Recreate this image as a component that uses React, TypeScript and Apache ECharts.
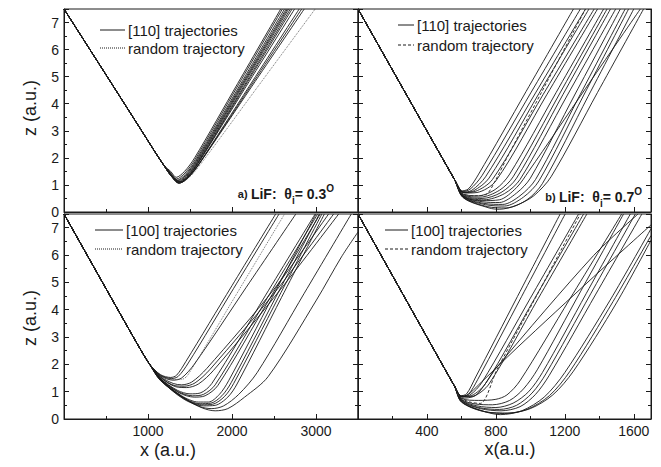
import React, { useEffect, useRef } from "react";
import * as echarts from "echarts";

// ---- axis ranges ----
const xRangeLeft = [0, 3500];
const xRangeRight = [0, 1700];
const zRange = [0, 7.5];
const xStepLeft = 1000;
const xStepRight = 400;
const zStep = 1;

// ---- panel a: [110], theta 0.3 ----
const inA = [[0, 7.5], [500, 5.07], [900, 3.12], [1100, 2.14], [1190, 1.72]];
const outA = [
  [[1270, 1.5], [1335, 1.28], [1435, 1.5], [1555, 2.0], [2068, 4.75], [2580, 7.5]],
  [[1270, 1.45], [1340, 1.22], [1440, 1.44], [1560, 1.94], [2080, 4.72], [2600, 7.5]],
  [[1270, 1.42], [1345, 1.17], [1445, 1.39], [1565, 1.89], [2095, 4.69], [2625, 7.5]],
  [[1270, 1.4], [1350, 1.14], [1450, 1.36], [1570, 1.86], [2108, 4.68], [2645, 7.5]],
  [[1270, 1.38], [1355, 1.11], [1455, 1.33], [1575, 1.83], [2118, 4.67], [2660, 7.5]],
  [[1270, 1.37], [1360, 1.09], [1460, 1.31], [1580, 1.81], [2128, 4.66], [2675, 7.5]],
  [[1270, 1.36], [1365, 1.07], [1465, 1.29], [1585, 1.79], [2140, 4.64], [2695, 7.5]],
  [[1270, 1.35], [1370, 1.06], [1470, 1.28], [1590, 1.78], [2152, 4.64], [2715, 7.5]],
  [[1270, 1.35], [1375, 1.07], [1475, 1.29], [1595, 1.79], [2170, 4.65], [2745, 7.5]],
  [[1270, 1.36], [1385, 1.08], [1485, 1.29], [1605, 1.77], [2202, 4.63], [2800, 7.5]],
  [[1270, 1.37], [1390, 1.1], [1490, 1.31], [1610, 1.78], [2220, 4.64], [2830, 7.5]],
  [[1270, 1.38], [1395, 1.12], [1495, 1.33], [1615, 1.8], [2238, 4.65], [2860, 7.5]],
];
const rndA = [[1270, 1.36], [1385, 1.08], [1490, 1.28], [1610, 1.7], [2300, 4.6], [2990, 7.5]];

// ---- panel b: [110], theta 0.7 ----
const inB = [[0, 7.5], [300, 4.12], [500, 1.87], [560, 1.2]];
const outB = [
  [[600, 0.78], [640, 0.85], [700, 1.4], [975, 4.45], [1250, 7.5]],
  [[605, 0.75], [650, 0.84], [720, 1.35], [1005, 4.43], [1290, 7.5]],
  [[610, 0.73], [660, 0.8], [740, 1.3], [1030, 4.4], [1320, 7.5]],
  [[612, 0.72], [670, 0.78], [760, 1.25], [1050, 4.38], [1340, 7.5]],
  [[615, 0.72], [680, 0.76], [780, 1.2], [1075, 4.35], [1370, 7.5]],
  [[618, 0.7], [690, 0.72], [800, 1.15], [1095, 4.33], [1390, 7.5]],
  [[610, 0.66], [700, 0.6], [800, 0.85], [880, 1.4], [1150, 4.42], [1425, 7.5]],
  [[610, 0.64], [710, 0.55], [820, 0.8], [900, 1.3], [1175, 4.43], [1445, 7.5]],
  [[610, 0.62], [720, 0.5], [830, 0.72], [920, 1.25], [1190, 4.35], [1465, 7.5]],
  [[610, 0.6], [730, 0.45], [850, 0.68], [940, 1.2], [1215, 4.32], [1495, 7.5]],
  [[610, 0.58], [720, 0.38], [820, 0.35], [920, 0.7], [1000, 1.25], [1260, 4.36], [1522, 7.5]],
  [[610, 0.56], [730, 0.32], [840, 0.28], [940, 0.6], [1030, 1.2], [1290, 4.35], [1550, 7.5]],
  [[610, 0.55], [740, 0.27], [850, 0.22], [960, 0.55], [1050, 1.15], [1310, 4.32], [1570, 7.5]],
  [[610, 0.54], [750, 0.2], [860, 0.15], [980, 0.45], [1070, 1.05], [1335, 4.27], [1600, 7.5]],
  [[610, 0.53], [760, 0.15], [820, 0.1], [920, 0.25], [1020, 0.6], [1120, 1.3], [1390, 4.42], [1657, 7.5]],
  [[610, 0.58], [720, 0.42], [820, 0.45], [920, 0.9], [990, 1.5], [1320, 4.56], [1638, 7.5]],
];
const rndB = [[600, 0.7], [680, 0.6], [744, 0.65], [800, 1.2], [864, 2.0], [1038, 4.1], [1320, 7.5]];

// ---- panel c: [100], theta 0.3 ----
const inC = [[0, 7.5], [500, 4.77], [900, 2.6], [1020, 2.0]];
const outC = [
  [[1150, 1.62], [1270, 1.52], [1340, 1.6], [1450, 2.1], [2000, 4.88], [2520, 7.5]],
  [[1150, 1.6], [1280, 1.48], [1360, 1.56], [1480, 2.05], [2020, 4.78], [2560, 7.5]],
  [[1150, 1.58], [1300, 1.42], [1400, 1.5], [1550, 2.0], [2170, 4.82], [2760, 7.5]],
  [[1150, 1.55], [1300, 1.3], [1400, 1.25], [1520, 1.35], [1700, 1.85], [2500, 4.75], [3150, 7.5]],
  [[1150, 1.53], [1320, 1.22], [1430, 1.2], [1560, 1.32], [1740, 1.82], [2540, 4.75], [3210, 7.5]],
  [[1150, 1.52], [1330, 1.18], [1460, 1.15], [1600, 1.28], [1780, 1.78], [2580, 4.75], [3270, 7.5]],
  [[1150, 1.48], [1350, 1.05], [1500, 0.92], [1620, 0.95], [1760, 1.3], [2400, 4.53], [2990, 7.5]],
  [[1150, 1.47], [1360, 1.0], [1530, 0.85], [1660, 0.9], [1800, 1.25], [2420, 4.43], [3020, 7.5]],
  [[1150, 1.46], [1370, 0.96], [1550, 0.8], [1680, 0.85], [1830, 1.22], [2440, 4.36], [3050, 7.5]],
  [[1150, 1.45], [1400, 0.85], [1600, 0.62], [1720, 0.62], [1850, 0.9], [1960, 1.4], [2480, 4.45], [3000, 7.5]],
  [[1150, 1.44], [1410, 0.8], [1620, 0.56], [1750, 0.58], [1880, 0.85], [1990, 1.33], [2520, 4.45], [3040, 7.5]],
  [[1150, 1.43], [1420, 0.76], [1640, 0.52], [1770, 0.54], [1910, 0.82], [2020, 1.3], [2550, 4.43], [3070, 7.5]],
  [[1150, 1.42], [1430, 0.72], [1660, 0.48], [1800, 0.5], [1950, 0.8], [2060, 1.28], [2590, 4.45], [3100, 7.5]],
  [[1150, 1.41], [1440, 0.75], [1620, 0.45], [1760, 0.38], [1900, 0.48], [2080, 0.9], [2300, 1.7], [2860, 4.6], [3420, 7.5]],
  [[1150, 1.4], [1450, 0.72], [1650, 0.4], [1800, 0.3], [1950, 0.38], [2150, 0.8], [2430, 1.55], [3005, 4.35], [3303, 5.93], [3500, 6.84]],
];
const rndC = [[1150, 1.6], [1300, 1.45], [1400, 1.45], [1472, 1.6], [2050, 4.55], [2626, 7.5]];

// ---- panel d: [100], theta 0.7 ----
const inD = [[0, 7.5], [300, 4.12], [500, 1.87], [560, 1.2]];
const outD = [
  [[595, 0.85], [630, 0.92], [680, 1.5], [925, 4.48], [1173, 7.5]],
  [[598, 0.84], [640, 0.9], [695, 1.45], [950, 4.49], [1202, 7.5]],
  [[600, 0.83], [650, 0.88], [720, 1.35], [1000, 4.42], [1280, 7.5]],
  [[602, 0.82], [660, 0.86], [740, 1.3], [1025, 4.41], [1309, 7.5]],
  [[604, 0.81], [670, 0.84], [760, 1.28], [1045, 4.4], [1328, 7.5]],
  [[600, 0.75], [700, 0.68], [800, 0.72], [864, 0.88], [940, 1.4], [1230, 4.4], [1530, 7.5]],
  [[600, 0.8], [640, 0.9], [700, 1.25], [922, 2.6], [1367, 5.2], [1700, 7.1]],
  [[600, 0.76], [680, 0.85], [740, 1.3], [806, 1.9], [1367, 5.98], [1625, 7.5]],
  [[600, 0.72], [680, 0.55], [780, 0.52], [880, 0.68], [960, 1.1], [1040, 1.8], [1290, 4.65], [1541, 7.5]],
  [[600, 0.7], [690, 0.48], [800, 0.42], [900, 0.58], [990, 1.0], [1070, 1.7], [1325, 4.6], [1580, 7.5]],
  [[600, 0.68], [700, 0.42], [820, 0.35], [920, 0.5], [1010, 0.95], [1090, 1.65], [1350, 4.58], [1609, 7.5]],
  [[600, 0.66], [710, 0.38], [830, 0.3], [940, 0.45], [1030, 0.9], [1110, 1.6], [1380, 4.57], [1647, 7.5]],
  [[600, 0.64], [720, 0.3], [825, 0.16], [950, 0.3], [1080, 0.8], [1200, 1.7], [1463, 4.35], [1700, 6.96]],
  [[600, 0.63], [730, 0.28], [850, 0.2], [980, 0.35], [1110, 0.85], [1230, 1.75], [1480, 4.3], [1700, 6.71]],
  [[600, 0.62], [740, 0.26], [870, 0.22], [1000, 0.38], [1130, 0.88], [1250, 1.75], [1500, 4.25], [1700, 6.54]],
];
const rndD = [[590, 0.8], [650, 0.62], [709, 0.57], [806, 1.8], [1050, 4.67], [1290, 7.5]];

const legendTop = ["[110] trajectories", "random trajectory"];
const legendBottom = ["[100] trajectories", "random trajectory"];

const FONT = "'Liberation Sans', Arial, Helvetica, sans-serif";
const INK = "#1a1a1a";

export default function App() {
  const ref = useRef<HTMLDivElement>(null);
  useEffect(() => {
    if (!ref.current) return;
    const chart = echarts.init(ref.current, null, { renderer: "svg" });

    const grids = [
      { left: 64, top: 9, width: 294, height: 203 },
      { left: 358, top: 9, width: 293, height: 203 },
      { left: 64, top: 214, width: 294, height: 205 },
      { left: 358, top: 214, width: 293, height: 205 },
    ].map((g) => ({ ...g, show: true, borderColor: INK, borderWidth: 1, backgroundColor: "transparent" }));

    const xAxis = [0, 1, 2, 3].map((g) => {
      const left = g % 2 === 0;
      const range = left ? xRangeLeft : xRangeRight;
      return {
        type: "value",
        gridIndex: g,
        min: range[0],
        max: range[1],
        interval: left ? xStepLeft : xStepRight,
        axisLine: { show: true, lineStyle: { color: INK, width: 1 } },
        axisTick: { show: true, inside: true, length: 5, lineStyle: { color: INK } },
        minorTick: { show: true, splitNumber: 2, length: 3, lineStyle: { color: INK } },
        splitLine: { show: false },
        axisLabel: {
          show: g >= 2,
          showMinLabel: false,
          showMaxLabel: false,
          fontSize: 14,
          fontFamily: FONT,
          color: INK,
          margin: 5,
          formatter: (v: number) => String(v),
        },
      };
    });

    const yAxis: any[] = [];
    [0, 1, 2, 3].forEach((g) => {
      ["left", "right"].forEach((pos) => {
        yAxis.push({
          type: "value",
          gridIndex: g,
          position: pos,
          min: zRange[0],
          max: zRange[1],
          interval: zStep,
          axisLine: { show: true, lineStyle: { color: INK, width: 1 } },
          axisTick: { show: true, inside: true, length: 5, lineStyle: { color: INK } },
          minorTick: { show: true, splitNumber: 2, length: 3, lineStyle: { color: INK } },
          splitLine: { show: false },
          axisLabel: {
            show: pos === "left" && g % 2 === 0,
            showMaxLabel: false,
            fontSize: 14,
            fontFamily: FONT,
            color: INK,
            margin: 5,
          },
        });
      });
    });

    const panels = [
      { inc: inA, outs: outA, rnd: rndA, rndDash: [1, 1], rndW: 0.7 },
      { inc: inB, outs: outB, rnd: rndB, rndDash: [3, 2], rndW: 1 },
      { inc: inC, outs: outC, rnd: rndC, rndDash: [1, 1], rndW: 0.7 },
      { inc: inD, outs: outD, rnd: rndD, rndDash: [3, 2], rndW: 1 },
    ];

    const series: any[] = [];
    panels.forEach((p, g) => {
      const common = {
        type: "line",
        xAxisIndex: g,
        yAxisIndex: g * 2,
        symbol: "none",
        showSymbol: false,
        smooth: 0.3,
        silent: true,
        clip: true,
      };
      p.outs.forEach((o) => {
        series.push({
          ...common,
          data: [...p.inc, ...o],
          lineStyle: { color: INK, width: 0.9 },
        });
      });
      series.push({
        ...common,
        data: [...p.inc, ...p.rnd],
        lineStyle: { color: "#333", width: p.rndW, type: p.rndDash },
      });
    });

    const legendItems = (
      x1: number, x2: number, tx: number, y1: number, y2: number, labels: string[], dash: number[]
    ) => [
      { type: "line", shape: { x1, y1, x2, y2: y1 }, style: { stroke: INK, lineWidth: 1 } },
      { type: "text", x: tx, y: y1, style: { text: labels[0], fontSize: 15, fontFamily: FONT, fill: INK, verticalAlign: "middle" } },
      { type: "line", shape: { x1, y1: y2, x2, y2 }, style: { stroke: INK, lineWidth: 1, lineDash: dash } },
      { type: "text", x: tx, y: y2, style: { text: labels[1], fontSize: 15, fontFamily: FONT, fill: INK, verticalAlign: "middle" } },
    ];

    const richLabel = (letter: string, angle: string) => ({
      text: `{s|${letter})} {b|LiF:  θ}{sub|i}{b|= ${angle}}{sup|O}`,
      align: "right",
      verticalAlign: "middle",
      rich: {
        s: { fontSize: 11, fontWeight: "bold", fontFamily: FONT, fill: INK, lineHeight: 22 },
        b: { fontSize: 14, fontWeight: "bold", fontFamily: FONT, fill: INK, lineHeight: 22 },
        sub: { fontSize: 10, fontWeight: "bold", fontFamily: FONT, fill: INK, lineHeight: 22, verticalAlign: "bottom" },
        sup: { fontSize: 10, fontWeight: "bold", fontFamily: FONT, fill: INK, lineHeight: 22, verticalAlign: "top" },
      },
    });

    const graphic: any[] = [
      ...legendItems(100, 125, 128, 30, 48, legendTop, [1, 1]),
      ...legendItems(398, 414, 417, 25, 45, legendTop, [3, 2]),
      ...legendItems(95, 123, 126, 230, 249, legendBottom, [1, 1]),
      ...legendItems(385, 408, 411, 230, 249, legendBottom, [3, 2]),
      { type: "text", x: 334, y: 194, style: richLabel("a", "0.3") },
      { type: "text", x: 642, y: 197, style: richLabel("b", "0.7") },
      {
        type: "text", x: 30, y: 108, rotation: Math.PI / 2,
        style: { text: "z (a.u.)", fontSize: 18, fontFamily: FONT, fill: INK, align: "center", verticalAlign: "middle" },
      },
      {
        type: "text", x: 30, y: 318, rotation: Math.PI / 2,
        style: { text: "z (a.u.)", fontSize: 18, fontFamily: FONT, fill: INK, align: "center", verticalAlign: "middle" },
      },
      {
        type: "text", x: 168, y: 450,
        style: { text: "x (a.u.)", fontSize: 18, fontFamily: FONT, fill: INK, align: "center", verticalAlign: "middle" },
      },
      {
        type: "text", x: 510, y: 449,
        style: { text: "x(a.u.)", fontSize: 18, fontFamily: FONT, fill: INK, align: "center", verticalAlign: "middle" },
      },
    ];

    chart.setOption({
      animation: false,
      backgroundColor: "#fff",
      grid: grids,
      xAxis,
      yAxis,
      series,
      graphic,
    });
    return () => chart.dispose();
  }, []);

  return (
    <div
      ref={ref}
      style={{ position: "fixed", left: 0, top: 0, width: 661, height: 467, background: "#fff" }}
    />
  );
}
